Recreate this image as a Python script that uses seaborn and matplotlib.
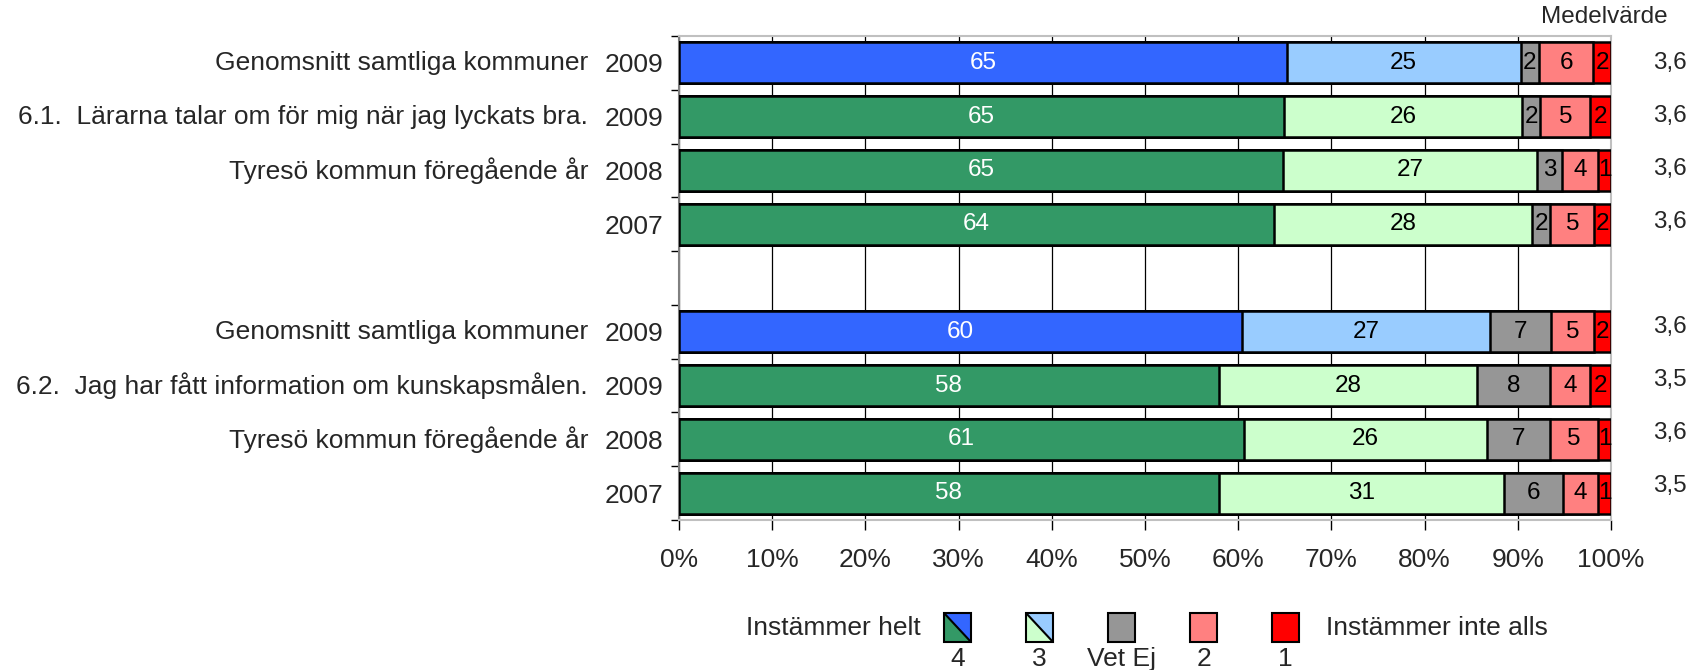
import numpy as np
import pandas as pd
import matplotlib
matplotlib.use("Agg")
import matplotlib.pyplot as plt
from matplotlib.patches import Polygon, Rectangle
import seaborn as sns

# ── data ────────────────────────────────────────────────────────────────────
row_names = ["Genomsnitt samtliga kommuner",
             "6.1.  Lärarna talar om för mig när jag lyckats bra.",
             "Tyresö kommun föregående år", "",
             "",
             "Genomsnitt samtliga kommuner",
             "6.2.  Jag har fått information om kunskapsmålen.",
             "Tyresö kommun föregående år", ""]
row_years = ["2009", "2009", "2008", "2007", "", "2009", "2009", "2008", "2007"]
is_average = [True, False, False, False, False, True, False, False, False]

seg_4 = [65.2, 64.9, 64.8, 63.8, np.nan, 60.4, 57.9, 60.6, 57.9]
seg_3 = [25.1, 25.6, 27.3, 27.7, np.nan, 26.6, 27.7, 26.1, 30.6]
seg_vet = [2.0, 1.9, 2.6, 2.0, np.nan, 6.6, 7.9, 6.8, 6.4]
seg_2 = [5.8, 5.4, 3.9, 4.7, np.nan, 4.6, 4.3, 5.1, 3.7]
seg_1 = [1.9, 2.2, 1.4, 1.8, np.nan, 1.8, 2.2, 1.4, 1.4]
means = ["3,6", "3,6", "3,6", "3,6", "", "3,6", "3,5", "3,6", "3,5"]

segments = ["4", "3", "Vet Ej", "2", "1"]
legend_labels = ["4", "3", "Vet Ej", "2", "1"]

# ── style ───────────────────────────────────────────────────────────────────
BLUE, GREEN = "#3366FF", "#339966"
LBLUE, LGREEN = "#99CCFF", "#CCFFCC"
GRAY, PINK, RED = "#969696", "#FF8080", "#FF0000"

sns.set_theme(style="white")
plt.rcParams["font.family"] = ["Liberation Sans", "DejaVu Sans"]
FS_LAB = 19     # row labels, ticks, legend
FS_VAL = 17.5   # numbers in bars, means

rows = [f"r{i}" for i in range(len(row_years))]
df = pd.DataFrame({"row": rows, "4": seg_4, "3": seg_3, "Vet Ej": seg_vet,
                   "2": seg_2, "1": seg_1, "avg": is_average})
cum = df[segments].cumsum(axis=1)
for s in segments:
    df["cum_" + s] = cum[s]

W, H = 1707, 670
fig = plt.figure(figsize=(W / 100, H / 100), dpi=100)
ax = fig.add_axes([679 / W, 150 / H, 932 / W, 484 / H])

seg_colors = {
    "4": {r: (BLUE if a else GREEN) for r, a in zip(rows, is_average)},
    "3": {r: (LBLUE if a else LGREEN) for r, a in zip(rows, is_average)},
    "Vet Ej": {r: GRAY for r in rows},
    "2": {r: PINK for r in rows},
    "1": {r: RED for r in rows},
}

# stacked by drawing cumulative bars from the longest to the shortest
for s in reversed(segments):
    sns.barplot(data=df, x="cum_" + s, y="row", hue="row", order=rows,
                hue_order=rows, palette=seg_colors[s], legend=False,
                orient="h", width=0.76, edgecolor="black", linewidth=1.8,
                saturation=1, ax=ax, zorder=3)

# value labels
for i, r in df.iterrows():
    if np.isnan(r["4"]):
        continue
    left = 0.0
    for s in segments:
        v = r[s]
        txt_color = "white" if s == "4" else "black"
        ax.text(left + v / 2, i, f"{int(v + 0.5)}", ha="center", va="center",
                fontsize=FS_VAL, color=txt_color, zorder=5)
        left += v

ax.set_xlim(0, 100)
ax.set_ylim(len(rows) - 0.5, -0.5)
ax.set_xticks(np.arange(0, 101, 10))
ax.set_xticklabels([f"{v}%" for v in range(0, 101, 10)], fontsize=FS_LAB)
ax.xaxis.grid(True, color="black", linewidth=0.9, zorder=0)
ax.set_axisbelow(True)
ax.set_xlabel("")
ax.set_ylabel("")

ax.set_yticks(range(len(rows)))
ax.set_yticklabels(row_years, fontsize=FS_LAB)
ax.set_yticks(np.arange(-0.5, len(rows)), minor=True)
ax.tick_params(axis="y", which="major", length=0, pad=11)
ax.tick_params(axis="y", which="minor", length=6, width=1, color="black",
               direction="out", left=True)
ax.tick_params(axis="x", which="major", length=7, width=1, color="black",
               direction="out", bottom=True, pad=13)

for side in ["top", "right", "bottom"]:
    ax.spines[side].set_color("#C0C0C0")
    ax.spines[side].set_linewidth(1.5)
ax.spines["left"].set_color("#808080")
ax.spines["left"].set_linewidth(1.5)

ytr = ax.get_yaxis_transform()
n = len(rows) - 1
for i, name in enumerate(row_names):
    if name:
        ax.text(-0.0976, i, name, transform=ytr, ha="right", va="center",
                fontsize=FS_LAB)
    if means[i]:
        ax.text(1.0633, i - 0.13 * i / n, means[i], transform=ytr,
                ha="center", va="center", fontsize=FS_VAL, clip_on=False)

fig.text(1604 / W, 1 - 17 / H, "Medelvärde", ha="center", va="center",
         fontsize=FS_VAL)

# legend
box_w, box_h = 27, 29
box_x = [944, 1026, 1108, 1190, 1272]
box_top = 613
leg_fill = [(GREEN, BLUE), (LGREEN, LBLUE), (GRAY, None), (PINK, None), (RED, None)]
for x0, (c_low, c_high), lab in zip(box_x, leg_fill, legend_labels):
    x1 = x0 + box_w
    yb, yt = 1 - (box_top + box_h) / H, 1 - box_top / H
    xl, xr = x0 / W, x1 / W
    if c_high is None:
        fig.patches.append(Rectangle((xl, yb), xr - xl, yt - yb,
                                     transform=fig.transFigure, facecolor=c_low,
                                     edgecolor="black", linewidth=1.5))
    else:
        fig.patches.append(Polygon([(xl, yt), (xr, yb), (xl, yb)], closed=True,
                                   transform=fig.transFigure, facecolor=c_low,
                                   edgecolor="none"))
        fig.patches.append(Polygon([(xl, yt), (xr, yt), (xr, yb)], closed=True,
                                   transform=fig.transFigure, facecolor=c_high,
                                   edgecolor="none"))
        fig.patches.append(Rectangle((xl, yb), xr - xl, yt - yb,
                                     transform=fig.transFigure, facecolor="none",
                                     edgecolor="black", linewidth=1.5))
        fig.lines.append(plt.Line2D([xl, xr], [yt, yb], transform=fig.transFigure,
                                    color="black", linewidth=1.5))
    fig.text((x0 + box_w / 2) / W, 1 - 659 / H, lab, ha="center", va="center",
             fontsize=FS_LAB)

fig.text(921 / W, 1 - 628 / H, "Instämmer helt", ha="right", va="center",
         fontsize=FS_LAB)
fig.text(1326 / W, 1 - 628 / H, "Instämmer inte alls", ha="left", va="center",
         fontsize=FS_LAB)

fig.savefig("out.png", dpi=100, facecolor="white")
